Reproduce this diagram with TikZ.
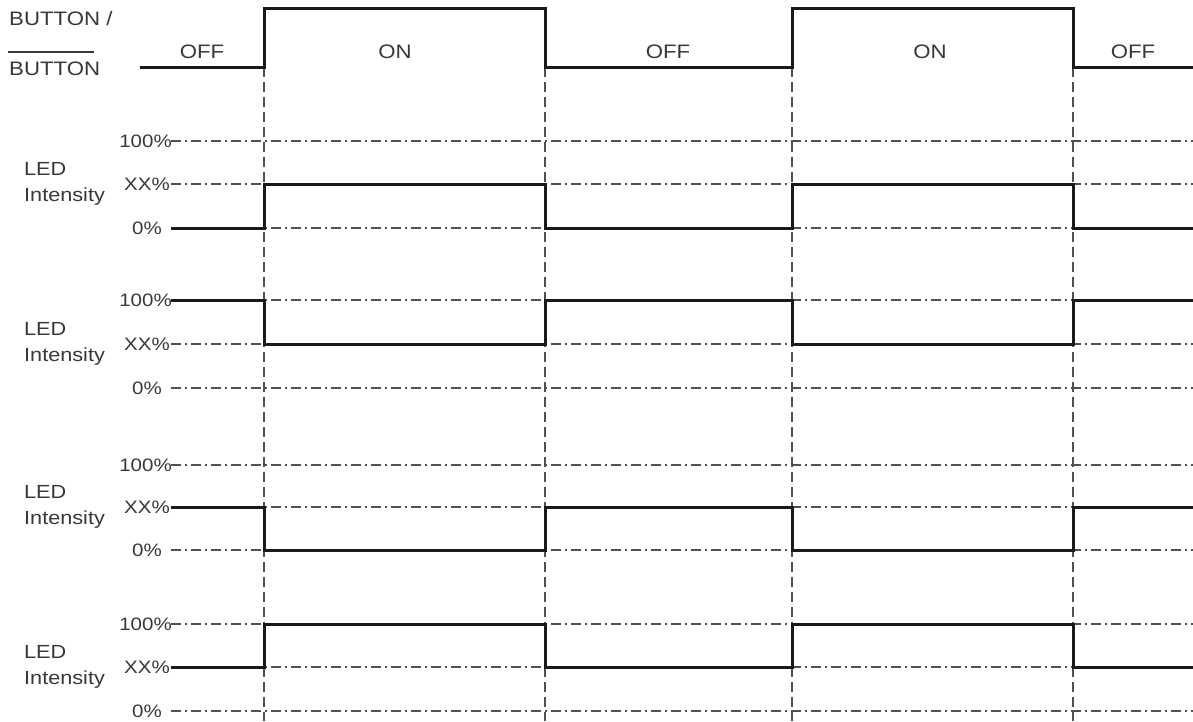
\documentclass[tikz,border=0pt]{standalone}
\usepackage{fontspec}
\setmainfont{Liberation Sans}
\usetikzlibrary{calc}
\definecolor{txt}{HTML}{383838}
\definecolor{sig}{HTML}{1A1A1A}
\definecolor{grid}{HTML}{505050}
\newcommand{\wide}[1]{\scalebox{1.14}[1]{#1}}
\tikzset{
  lbl/.style={font=\fontsize{19.5}{22}\selectfont, text=txt, inner sep=0pt},
  pct/.style={font=\fontsize{18}{20}\selectfont, text=txt, inner sep=0pt, anchor=east},
  signal/.style={draw=sig, line width=3pt, line join=miter},
  refline/.style={draw=grid, line width=1.7pt, dash pattern=on 10pt off 4pt on 2pt off 4pt},
  guide/.style={draw=grid, line width=1.7pt, dash pattern=on 10pt off 5pt},
}
\begin{document}
\begin{tikzpicture}[x=1pt,y=-1pt]
\useasboundingbox (0,0) rectangle (1193,721);
\fill[white] (0,0) rectangle (1193,721);

% transition x positions
\def\xa{264}\def\xb{545}\def\xc{792}\def\xd{1073}\def\xs{171}\def\xe{1193}

% vertical guides
\foreach \x/\n in {\xa/a,\xb/b,\xc/c,\xd/d}{
  \coordinate (gt\n) at (\x,67);
  \coordinate (gb\n) at (\x,721);
  \draw[guide] (gt\n) -- (gb\n);
}

% button labels
\node[lbl, anchor=west] (btn1) at (9,19) {\wide{BUTTON /}};
\node[lbl, anchor=west] (btn2) at (9,69) {\wide{BUTTON}};
\coordinate (ov1) at (8,52);
\coordinate (ov2) at (94,52);
\draw[txt, line width=1.3pt] (ov1) -- (ov2);

% button waveform
\coordinate (b0) at (140,67);
\draw[signal] (b0) -- (\xa,67) -- (\xa,8) -- (\xb,8) -- (\xb,67) -- (\xc,67) -- (\xc,8) -- (\xd,8) -- (\xd,67) -- (\xe,67);
\node[lbl] (s1) at (202,52) {\wide{OFF}};
\node[lbl] (s2) at (395,52) {\wide{ON}};
\node[lbl] (s3) at (668,52) {\wide{OFF}};
\node[lbl] (s4) at (930,52) {\wide{ON}};
\node[lbl] (s5) at (1133,52) {\wide{OFF}};

% panels: top(100%), mid(XX%), bottom(0%)
\foreach \p/\h/\m/\l in {1/141/184/228, 2/300/344/388, 3/465/507/550, 4/624/667/711}{
  \node[pct] (h\p) at (172,\h) {\wide{100\%}};
  \node[pct] (m\p) at (170,\m) {\wide{XX\%}};
  \node[pct] (l\p) at (162,\l) {\wide{0\%}};
  \draw[refline] (\xs,\h) -- (\xe,\h);
  \draw[refline] (\xs,\m) -- (\xe,\m);
  \draw[refline] (\xs,\l) -- (\xe,\l);
  \node[lbl, anchor=west, align=left, font=\fontsize{19}{26}\selectfont] (led\p) at (24,\m) {\wide{LED}\\\wide{Intensity}};
}

% panel 1: OFF -> 0%, ON -> XX%
\draw[signal] (\xs,228) -- (\xa,228) -- (\xa,184) -- (\xb,184) -- (\xb,228) -- (\xc,228) -- (\xc,184) -- (\xd,184) -- (\xd,228) -- (\xe,228);
% panel 2: OFF -> 100%, ON -> XX%
\draw[signal] (\xs,300) -- (\xa,300) -- (\xa,344) -- (\xb,344) -- (\xb,300) -- (\xc,300) -- (\xc,344) -- (\xd,344) -- (\xd,300) -- (\xe,300);
% panel 3: OFF -> XX%, ON -> 0%
\draw[signal] (\xs,507) -- (\xa,507) -- (\xa,550) -- (\xb,550) -- (\xb,507) -- (\xc,507) -- (\xc,550) -- (\xd,550) -- (\xd,507) -- (\xe,507);
% panel 4: OFF -> XX%, ON -> 100%
\draw[signal] (\xs,667) -- (\xa,667) -- (\xa,624) -- (\xb,624) -- (\xb,667) -- (\xc,667) -- (\xc,624) -- (\xd,624) -- (\xd,667) -- (\xe,667);
\end{tikzpicture}
\end{document}
